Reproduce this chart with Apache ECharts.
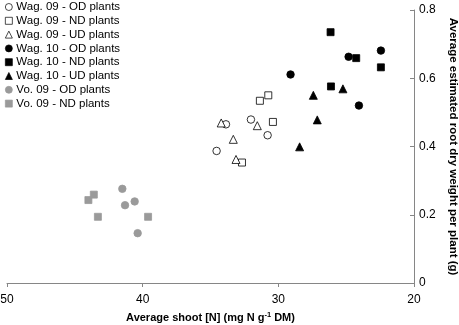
<!DOCTYPE html>
<html>
<head>
<meta charset="utf-8">
<script src="https://cdn.jsdelivr.net/npm/echarts@6/dist/echarts.min.js"></script>
<style>
  html, body { margin: 0; padding: 0; background: #fff; }
  #chart { width: 459px; height: 325px; }
</style>
</head>
<body>
<div id="chart"></div>
<script>
// 根干重 vs 地上部氮浓度 散点图
var xTicks = [50, 40, 30, 20]
var yTicks = [0, 0.2, 0.4, 0.6, 0.8]

// [shoot N, root dry weight]
var wag09OD = [[34.55, 0.387], [33.86, 0.465], [32.02, 0.479], [30.79, 0.433]]
var wag09ND = [[30.74, 0.550], [31.36, 0.534], [30.4, 0.472], [32.68, 0.353]]
var wag09UD = [[34.21, 0.469], [33.32, 0.421], [31.55, 0.461], [33.12, 0.362]]
var wag10OD = [[29.1, 0.611], [24.82, 0.663], [22.44, 0.681], [24.06, 0.520]]
var wag10ND = [[26.15, 0.735], [24.26, 0.659], [22.44, 0.632], [26.12, 0.576]]
var wag10UD = [[27.42, 0.550], [25.24, 0.569], [27.13, 0.478], [28.43, 0.399]]
var vo09OD = [[41.5, 0.276], [41.3, 0.228], [40.59, 0.239], [40.37, 0.146]]
var vo09ND = [[44.0, 0.243], [43.6, 0.259], [43.3, 0.194], [39.6, 0.194]]

var font = 'Liberation Sans'

function makeSeries(name, data, symbol, fill, border, size) {
	return {
		name: name,
		type: 'scatter',
		data: data,
		symbol: symbol,
		symbolSize: size,
		itemStyle: {
			color: fill,
			borderColor: border,
			borderWidth: 0.8,
			opacity: 1
		}
	}
}

var chart = echarts.init(document.getElementById('chart'))

chart.setOption({
	animation: false,
	backgroundColor: '#fff',
	textStyle: { fontFamily: font },
	legend: {
		orient: 'vertical',
		left: 3,
		top: 0,
		itemWidth: 7,
		itemHeight: 7,
		itemGap: 1.8,
		padding: [1, 2],
		itemStyle: { borderWidth: 0.7 },
		textStyle: {
			fontFamily: font,
			fontSize: 11.5,
			color: '#000',
			padding: [0, 0, 0, -1]
		}
	},
	grid: {
		left: 7,
		right: 45,
		top: 10,
		bottom: 42,
		outerBoundsMode: 'none'
	},
	xAxis: {
		type: 'value',
		inverse: true,
		min: xTicks[3],
		max: xTicks[0],
		interval: 10,
		name: '{b|Average shoot [N] (mg N g}{s|-1}{b| DM)}',
		nameLocation: 'middle',
		nameGap: 28,
		nameTextStyle: {
			rich: {
				b: { fontFamily: font, fontSize: 11, fontWeight: 'bold', color: '#000' },
				s: { fontFamily: font, fontSize: 7.5, fontWeight: 'bold', color: '#000', padding: [0, 0, 6, 0] }
			}
		},
		axisLine: { lineStyle: { color: '#868686' } },
		axisTick: { length: 4, lineStyle: { color: '#868686' } },
		axisLabel: { color: '#000', fontSize: 12, fontFamily: font, margin: 11 },
		splitLine: { show: false }
	},
	yAxis: {
		type: 'value',
		position: 'right',
		min: yTicks[0],
		max: yTicks[4],
		interval: 0.2,
		name: 'Average estimated root dry weight per plant (g)',
		nameLocation: 'middle',
		nameRotate: -90,
		nameGap: 33,
		nameTextStyle: { fontFamily: font, fontSize: 11.5, fontWeight: 'bold', color: '#000' },
		axisLine: { show: true, lineStyle: { color: '#868686' } },
		axisTick: { show: true, inside: true, length: 4, lineStyle: { color: '#868686' } },
		axisLabel: {
			color: '#000',
			fontSize: 12,
			fontFamily: font,
			margin: 5,
			formatter: function (v) { return String(Math.round(v * 10) / 10) }
		},
		splitLine: { show: false }
	},
	series: [
		makeSeries('Wag. 09 - OD plants', wag09OD, 'circle', '#fff', '#000', 7.5),
		makeSeries('Wag. 09 - ND plants', wag09ND, 'rect', '#fff', '#000', 7),
		makeSeries('Wag. 09 - UD plants', wag09UD, 'triangle', '#fff', '#000', 8),
		makeSeries('Wag. 10 - OD plants', wag10OD, 'circle', '#000', '#000', 7.5),
		makeSeries('Wag. 10 - ND plants', wag10ND, 'rect', '#000', '#000', 7),
		makeSeries('Wag. 10 - UD plants', wag10UD, 'triangle', '#000', '#000', 8),
		makeSeries('Vo. 09 - OD plants', vo09OD, 'circle', '#9a9a9a', '#9a9a9a', 7.5),
		makeSeries('Vo. 09 - ND plants', vo09ND, 'rect', '#9a9a9a', '#9a9a9a', 7)
	]
})
</script>
</body>
</html>
